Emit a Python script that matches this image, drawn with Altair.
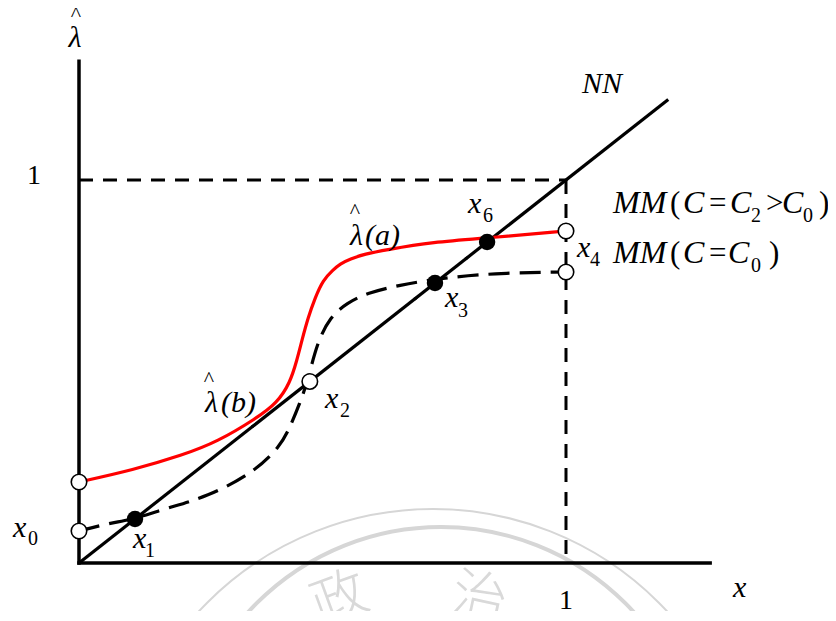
import altair as alt
import pandas as pd

# ---- frame (data units: x and lambda-hat, both 0..1 on the axes) ----
X_MIN, X_MAX = -0.14579, 1.53799
Y_MIN, Y_MAX = -0.12532, 1.44909

# 45-degree line NN
nn_x = [0.0, 1.21]
nn_y = [0.0, 1.21]

# MM (C = C2 > C0)  -- red curve
red_x = [0.0, 0.1109, 0.2136, 0.2834, 0.3655, 0.4066, 0.4333, 0.4476, 0.4579,
         0.4702, 0.4846, 0.5010, 0.5216, 0.5359, 0.5565, 0.5873, 0.6283, 0.7269, 0.8378, 1.0]
red_y = [0.2115, 0.2428, 0.2820, 0.3159, 0.3786, 0.4178, 0.4700, 0.5300, 0.5822,
         0.6397, 0.6919, 0.7389, 0.7650, 0.7807, 0.7937, 0.8068, 0.8172, 0.8381, 0.8486, 0.8668]

# MM (C = C0)  -- dashed curve
c0_x = [0.0, 0.0637, 0.1150, 0.1807, 0.2628, 0.3573, 0.4127, 0.4333, 0.4538, 0.4702,
        0.4887, 0.5154, 0.5503, 0.5914, 0.6591, 0.7310, 0.8501, 1.0]
c0_y = [0.0836, 0.1044, 0.1149, 0.1436, 0.1723, 0.2350, 0.3029, 0.3551, 0.4178, 0.4778,
        0.5744, 0.6423, 0.6789, 0.7050, 0.7258, 0.7415, 0.7572, 0.7598]

# points
open_x = [0.0, 0.0, 0.474, 1.0, 1.0]
open_y = [0.2115, 0.0836, 0.474, 0.8668, 0.7598]
fill_x = [0.115, 0.731, 0.838]
fill_y = [0.115, 0.731, 0.838]
arrow_x = [0.361, 0.695, 0.800]
arrow_y = [0.361, 0.695, 0.800]

# axes and guides
axes_x = [0.0, 0.0]
axes_y = [0.0, 0.0]
axes_x2 = [0.0, 1.296]
axes_y2 = [1.31, 0.0]
guide_x = [0.0, 1.0]
guide_y = [1.0, 1.0]
guide_x2 = [1.0, 1.0]
guide_y2 = [1.0, 0.0]

# text labels (italic, size 30)
ital_text = ["λ", "λ", "(a)", "λ", "(b)", "x", "NN", "x", "x", "x", "x", "x", "x"]
ital_x = [-0.0082, 0.5565, 0.5873, 0.2587, 0.2916, 1.3429, 1.0329, -0.1355, 0.1109, 0.5051,
          0.7515, 0.7988, 1.0226]
ital_y = [1.3473, 0.8303, 0.8303, 0.3943, 0.3943, -0.0888, 1.2272, 0.0679, 0.0392, 0.4047,
          0.6684, 0.9138, 0.7990]
ital_align = ["center"] + ["left"] * 12

# legend-like labels MM(...) (italic, size 32)
mm_text = ["MM", "C", "C", "C", "MM", "C", "C"]
mm_x = [1.0965, 1.2402, 1.3368, 1.4435, 1.0965, 1.2402, 1.3326]
mm_y = [0.9138, 0.9138, 0.9138, 0.9138, 0.7833, 0.7833, 0.7833]

up_text = ["(", "=", ">", ")", "(", "=", ")"]
up_x = [1.2136, 1.2936, 1.4107, 1.5195, 1.2136, 1.2936, 1.4168]
up_y = [0.9138, 0.9138, 0.9138, 0.9138, 0.7833, 0.7833, 0.7833]

num_text = ["1", "1"]
num_x = [-0.0924, 1.0]
num_y = [0.9896, -0.1201]

sub_text = ["0", "1", "2", "3", "6", "4", "2", "0", "0"]
sub_x = [-0.1047, 0.1355, 0.5359, 0.7782, 0.8296, 1.0493, 1.3798, 1.4866, 1.3798]
sub_y = [0.0470, 0.0157, 0.3812, 0.6423, 0.8903, 0.7755, 0.8903, 0.8903, 0.7598]

hat_x = [-0.0062, 0.5667, 0.2669]
hat_y = [1.4150, 0.900, 0.4610]

# watermark (faint seal)
wm_ring_x = [0.7269, 0.7433]
wm_ring_y = [-0.6919, -0.5875]
wm_ring_size = [407044, 272484]
wm_ring_w = [2, 4]
wm_char = ["政", "治"]
wm_char_x = [0.5359, 0.8214]
wm_char_y = [-0.0966, -0.0966]
wm_char_angle = [340, 12]

SERIF = "Liberation Serif"
xs = alt.Scale(domain=[X_MIN, X_MAX], nice=False, zero=False)
ys = alt.Scale(domain=[Y_MIN, Y_MAX], nice=False, zero=False)


def X(f):
    return alt.X(f, type="quantitative", scale=xs, axis=None)


def Y(f):
    return alt.Y(f, type="quantitative", scale=ys, axis=None)


layers = []

# watermark
for i in range(2):
    d = pd.DataFrame({"x": [wm_ring_x[i]], "y": [wm_ring_y[i]]})
    layers.append(alt.Chart(d).mark_point(shape="circle", filled=False, stroke="#d6d6d6",
                                          strokeWidth=wm_ring_w[i], opacity=1,
                                          size=wm_ring_size[i]).encode(x=X("x"), y=Y("y")))
for i in range(2):
    d = pd.DataFrame({"x": [wm_char_x[i]], "y": [wm_char_y[i]], "t": [wm_char[i]]})
    layers.append(alt.Chart(d).mark_text(font="Noto Sans CJK SC", fontSize=56, fontWeight=300,
                                         color="#d9d9d9", align="center", baseline="middle",
                                         angle=wm_char_angle[i]).encode(x=X("x"), y=Y("y"), text="t:N"))

# guides
gdf = pd.DataFrame({"x": guide_x, "y": guide_y, "x2": guide_x2, "y2": guide_y2})
layers.append(alt.Chart(gdf).mark_rule(color="black", strokeWidth=3, strokeDash=[14, 10]).encode(
    x=X("x"), y=Y("y"), x2="x2:Q", y2="y2:Q"))

# axes
adf = pd.DataFrame({"x": axes_x, "y": axes_y, "x2": axes_x2, "y2": axes_y2})
layers.append(alt.Chart(adf).mark_rule(color="black", strokeWidth=3.5, strokeCap="square").encode(
    x=X("x"), y=Y("y"), x2="x2:Q", y2="y2:Q"))

# NN
ndf = pd.DataFrame({"x": nn_x, "y": nn_y})
layers.append(alt.Chart(ndf).mark_line(color="black", strokeWidth=3.2).encode(x=X("x"), y=Y("y")))

# curves
rdf = pd.DataFrame({"x": red_x, "y": red_y})
layers.append(alt.Chart(rdf).mark_line(color="#ff0000", strokeWidth=3.2, interpolate="basis").encode(
    x=X("x"), y=Y("y")))
cdf = pd.DataFrame({"x": c0_x, "y": c0_y})
layers.append(alt.Chart(cdf).mark_line(color="black", strokeWidth=3.2, interpolate="basis",
                                       strokeDash=[21, 10]).encode(x=X("x"), y=Y("y")))

# arrows
ardf = pd.DataFrame({"x": arrow_x, "y": arrow_y})
layers.append(alt.Chart(ardf).mark_point(shape="wedge", filled=True, color="black", opacity=1,
                                         size=170, angle=51.5).encode(x=X("x"), y=Y("y")))

# points
odf = pd.DataFrame({"x": open_x, "y": open_y})
layers.append(alt.Chart(odf).mark_point(shape="circle", filled=True, fill="white", stroke="black",
                                        strokeWidth=1.6, opacity=1, size=240).encode(x=X("x"), y=Y("y")))
fdf = pd.DataFrame({"x": fill_x, "y": fill_y})
layers.append(alt.Chart(fdf).mark_point(shape="circle", filled=True, color="black", opacity=1,
                                        size=270).encode(x=X("x"), y=Y("y")))

# texts
idf = pd.DataFrame({"x": ital_x, "y": ital_y, "t": ital_text, "a": ital_align})
for al in ["left", "center"]:
    sub = idf[idf["a"] == al]
    layers.append(alt.Chart(sub).mark_text(font=SERIF, fontSize=30, fontStyle="italic", align=al,
                                           baseline="alphabetic", color="black").encode(
        x=X("x"), y=Y("y"), text="t:N"))
mdf = pd.DataFrame({"x": mm_x, "y": mm_y, "t": mm_text})
layers.append(alt.Chart(mdf).mark_text(font=SERIF, fontSize=32, fontStyle="italic", align="left",
                                       baseline="alphabetic", color="black").encode(
    x=X("x"), y=Y("y"), text="t:N"))
udf = pd.DataFrame({"x": up_x, "y": up_y, "t": up_text})
layers.append(alt.Chart(udf).mark_text(font=SERIF, fontSize=31, align="left", baseline="alphabetic",
                                       color="black").encode(x=X("x"), y=Y("y"), text="t:N"))
numdf = pd.DataFrame({"x": num_x, "y": num_y, "t": num_text})
layers.append(alt.Chart(numdf).mark_text(font=SERIF, fontSize=28, align="center", baseline="alphabetic",
                                         color="black").encode(x=X("x"), y=Y("y"), text="t:N"))
sdf = pd.DataFrame({"x": sub_x, "y": sub_y, "t": sub_text})
layers.append(alt.Chart(sdf).mark_text(font=SERIF, fontSize=20, align="left", baseline="alphabetic",
                                       color="black").encode(x=X("x"), y=Y("y"), text="t:N"))
hdf = pd.DataFrame({"x": hat_x, "y": hat_y, "t": ["^"] * 3})
layers.append(alt.Chart(hdf).mark_text(font=SERIF, fontSize=22, align="center", baseline="alphabetic",
                                       color="black").encode(x=X("x"), y=Y("y"), text="t:N"))

chart = alt.layer(*layers).properties(
    width=820, height=603, autosize="none", padding=0
).configure(font=SERIF).configure_view(stroke=None).configure_text(font=SERIF)

chart.save("out.html", embed_options={"renderer": "svg", "actions": False})
